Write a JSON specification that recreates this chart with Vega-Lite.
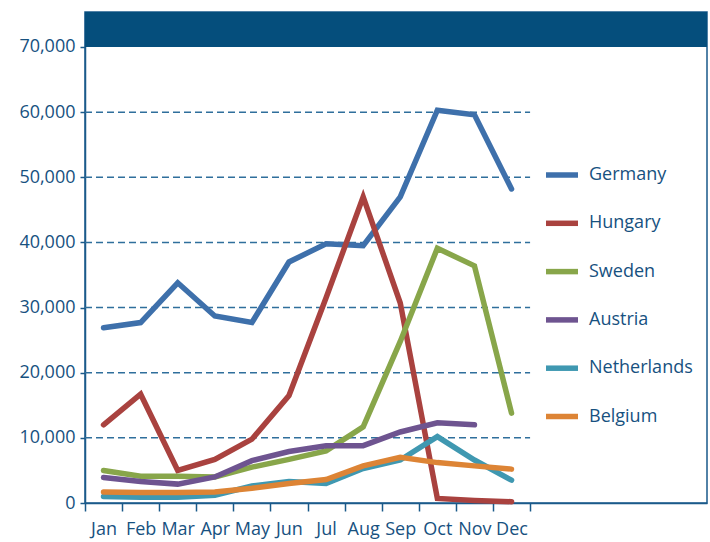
{
  "$schema": "https://vega.github.io/schema/vega-lite/v6.json",
  "width": 622,
  "height": 491,
  "autosize": "none",
  "padding": {"left": 85, "top": 12, "right": 3, "bottom": 39},
  "title": {"text": "in the year 2015", "anchor": "start", "frame": "group", "fontSize": 22, "font": "Open Sans", "fontWeight": "bold", "color": "#0b4f7c", "baseline": "alphabetic", "offset": 9},
  "config": {
    "font": "Open Sans",
    "view": {"stroke": "#1a5a8a", "strokeWidth": 1.5},
    "axis": {"labelFont": "Open Sans", "labelFontSize": 18, "labelColor": "#17517f", "domainColor": "#1a5a8a", "tickColor": "#1a5a8a", "domainWidth": 1.5, "tickWidth": 1.5, "grid": false, "title": null}
  },
  "datasets": {
    "series": [
      {"month": 1, "country": "Germany", "value": 26900},
      {"month": 2, "country": "Germany", "value": 27700},
      {"month": 3, "country": "Germany", "value": 33800},
      {"month": 4, "country": "Germany", "value": 28700},
      {"month": 5, "country": "Germany", "value": 27700},
      {"month": 6, "country": "Germany", "value": 37000},
      {"month": 7, "country": "Germany", "value": 39800},
      {"month": 8, "country": "Germany", "value": 39500},
      {"month": 9, "country": "Germany", "value": 47000},
      {"month": 10, "country": "Germany", "value": 60300},
      {"month": 11, "country": "Germany", "value": 59600},
      {"month": 12, "country": "Germany", "value": 48200},
      {"month": 1, "country": "Hungary", "value": 12000},
      {"month": 2, "country": "Hungary", "value": 16700},
      {"month": 3, "country": "Hungary", "value": 5000},
      {"month": 4, "country": "Hungary", "value": 6700},
      {"month": 5, "country": "Hungary", "value": 9800},
      {"month": 6, "country": "Hungary", "value": 16500},
      {"month": 7, "country": "Hungary", "value": 31500},
      {"month": 8, "country": "Hungary", "value": 47000},
      {"month": 9, "country": "Hungary", "value": 30700},
      {"month": 10, "country": "Hungary", "value": 700},
      {"month": 11, "country": "Hungary", "value": 400},
      {"month": 12, "country": "Hungary", "value": 200},
      {"month": 1, "country": "Sweden", "value": 5000},
      {"month": 2, "country": "Sweden", "value": 4100},
      {"month": 3, "country": "Sweden", "value": 4100},
      {"month": 4, "country": "Sweden", "value": 4000},
      {"month": 5, "country": "Sweden", "value": 5500},
      {"month": 6, "country": "Sweden", "value": 6700},
      {"month": 7, "country": "Sweden", "value": 8000},
      {"month": 8, "country": "Sweden", "value": 11700},
      {"month": 9, "country": "Sweden", "value": 24800},
      {"month": 10, "country": "Sweden", "value": 39100},
      {"month": 11, "country": "Sweden", "value": 36400},
      {"month": 12, "country": "Sweden", "value": 13800},
      {"month": 1, "country": "Austria", "value": 3900},
      {"month": 2, "country": "Austria", "value": 3300},
      {"month": 3, "country": "Austria", "value": 2900},
      {"month": 4, "country": "Austria", "value": 4000},
      {"month": 5, "country": "Austria", "value": 6500},
      {"month": 6, "country": "Austria", "value": 7900},
      {"month": 7, "country": "Austria", "value": 8800},
      {"month": 8, "country": "Austria", "value": 8800},
      {"month": 9, "country": "Austria", "value": 10900},
      {"month": 10, "country": "Austria", "value": 12300},
      {"month": 11, "country": "Austria", "value": 12000},
      {"month": 1, "country": "Netherlands", "value": 1000},
      {"month": 2, "country": "Netherlands", "value": 900},
      {"month": 3, "country": "Netherlands", "value": 900},
      {"month": 4, "country": "Netherlands", "value": 1200},
      {"month": 5, "country": "Netherlands", "value": 2600},
      {"month": 6, "country": "Netherlands", "value": 3300},
      {"month": 7, "country": "Netherlands", "value": 3000},
      {"month": 8, "country": "Netherlands", "value": 5300},
      {"month": 9, "country": "Netherlands", "value": 6600},
      {"month": 10, "country": "Netherlands", "value": 10200},
      {"month": 11, "country": "Netherlands", "value": 6600},
      {"month": 12, "country": "Netherlands", "value": 3500},
      {"month": 1, "country": "Belgium", "value": 1700},
      {"month": 2, "country": "Belgium", "value": 1600},
      {"month": 3, "country": "Belgium", "value": 1600},
      {"month": 4, "country": "Belgium", "value": 1700},
      {"month": 5, "country": "Belgium", "value": 2250},
      {"month": 6, "country": "Belgium", "value": 3000},
      {"month": 7, "country": "Belgium", "value": 3600},
      {"month": 8, "country": "Belgium", "value": 5700},
      {"month": 9, "country": "Belgium", "value": 7000},
      {"month": 10, "country": "Belgium", "value": 6200},
      {"month": 11, "country": "Belgium", "value": 5700},
      {"month": 12, "country": "Belgium", "value": 5200}
    ],
    "grid": [
      {"level": 10000}, {"level": 20000}, {"level": 30000},
      {"level": 40000}, {"level": 50000}, {"level": 60000}
    ]
  },
  "layer": [
    {
      "data": {"name": "grid"},
      "mark": {"type": "rule", "color": "#2f6f9c", "strokeWidth": 1.5, "strokeDash": [7, 4]},
      "encoding": {
        "y": {"field": "level", "type": "quantitative"},
        "x": {"datum": 0.5, "type": "quantitative"},
        "x2": {"datum": 12.5}
      }
    },
    {
      "data": {"name": "series"},
      "mark": {"type": "line", "strokeWidth": 5.5, "strokeCap": "round"},
      "encoding": {
        "x": {"field": "month", "type": "quantitative", "scale": {"domain": [0.5, 17.27], "nice": false, "zero": false},
          "axis": {"values": [0.5, 1.5, 2.5, 3.5, 4.5, 5.5, 6.5, 7.5, 8.5, 9.5, 10.5, 11.5, 12.5],
            "labelExpr": "datum.value < 12 ? timeFormat(datetime(2015, floor(datum.value), 1), '%b') : ''",
            "labelOverlap": false, "labelFlush": false, "tickSize": 8, "labelPadding": 9, "labelFontSize": 18, "labelOffset": 18.5, "labelAlign": "center"}},
        "y": {"field": "value", "type": "quantitative", "scale": {"domain": [0, 75370], "nice": false, "zero": true},
          "axis": {"values": [0, 10000, 20000, 30000, 40000, 50000, 60000, 70000], "format": ",d", "tickSize": 5, "labelPadding": 5, "labelFontSize": 18}},
        "color": {"field": "country", "type": "nominal",
          "scale": {"domain": ["Germany", "Hungary", "Sweden", "Austria", "Netherlands", "Belgium"],
            "range": ["#3e70ab", "#a9423f", "#88a64a", "#6e5490", "#3f98b1", "#dd8435"]},
          "legend": {"orient": "none", "legendX": 458, "legendY": 144, "title": null, "padding": 0,
            "symbolType": "stroke", "symbolSize": 1024, "symbolStrokeWidth": 5.5, "labelFontSize": 18, "labelFont": "Open Sans",
            "labelColor": "#17517f", "labelOffset": 8, "rowPadding": 18.3}}
      }
    },
    {
      "data": {"values": [{}]},
      "mark": {"type": "rect", "color": "#054e7c"},
      "encoding": {
        "y": {"datum": 70000, "type": "quantitative"},
        "y2": {"datum": 75370}
      }
    }
  ]
}
